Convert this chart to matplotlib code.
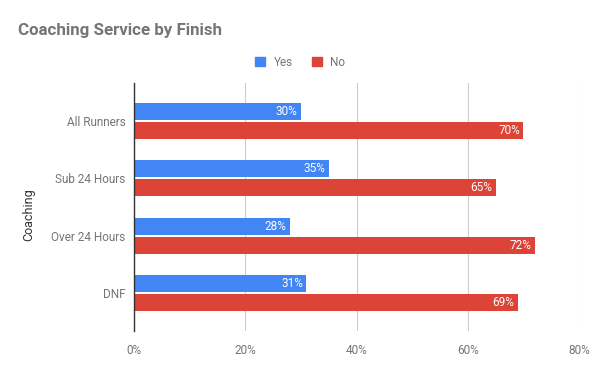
import matplotlib.pyplot as plt
import numpy as np

plt.rcParams['font.family'] = ['Roboto', 'DejaVu Sans']

categories = ['All Runners', 'Sub 24 Hours', 'Over 24 Hours', 'DNF']
yes_vals = [30, 35, 28, 31]
no_vals = [70, 65, 72, 69]
xticks = [0, 20, 40, 60, 80]

BLUE = '#4285F4'
RED = '#DB4437'
GRAY = '#757575'

fig = plt.figure(figsize=(6, 3.71), dpi=100)
ax = fig.add_axes([134 / 600, 1 - 331 / 371, 445 / 600, 248 / 371])

y = np.arange(len(categories))
h = 0.297
gap = 0.018
bars_yes = ax.barh(y - h / 2 - gap, yes_vals, height=h, color=BLUE, zorder=3)
bars_no = ax.barh(y + h / 2 + gap, no_vals, height=h, color=RED, zorder=3)

for bars, vals in [(bars_yes, yes_vals), (bars_no, no_vals)]:
    for b, v in zip(bars, vals):
        ax.text(v - 0.6, b.get_y() + b.get_height() / 2, f'{v}%',
                ha='right', va='center', color='white', fontsize=8.5, zorder=4)

ax.set_ylim(len(categories) - 1 + 0.665, -0.665)
ax.set_xlim(0, 80)
ax.set_yticks(y)
ax.set_yticklabels(categories)
ax.set_xticks(xticks)
ax.set_xticklabels([f'{t}%' for t in xticks])
ax.tick_params(axis='both', length=0, colors=GRAY, labelsize=8.5)
ax.tick_params(axis='x', pad=9)
ax.tick_params(axis='y', pad=6)

ax.grid(axis='x', color='#CCCCCC', linewidth=0.8, zorder=0)
for s in ['top', 'right', 'bottom']:
    ax.spines[s].set_visible(False)
ax.spines['left'].set_color('#333333')
ax.spines['left'].set_linewidth(1)
ax.spines['left'].set_zorder(5)

fig.text(0.048, 1 - 215 / 371, 'Coaching', rotation=90, ha='center', va='center',
         color='#333333', fontsize=9)

fig.text(18 / 600, 1 - 31 / 371, 'Coaching Service by Finish', ha='left', va='center',
         fontsize=12.2, fontweight='bold', color='#757575')

handles = [plt.Rectangle((0, 0), 1, 1, color=BLUE), plt.Rectangle((0, 0), 1, 1, color=RED)]
fig.legend(handles, ['Yes', 'No'], loc='center', bbox_to_anchor=(0.5, 1 - 62 / 371),
           ncol=2, frameon=False, fontsize=8.5, labelcolor=GRAY,
           handlelength=0.9, handleheight=0.9, columnspacing=1.6, handletextpad=0.7)

fig.savefig('out.png', dpi=100)
